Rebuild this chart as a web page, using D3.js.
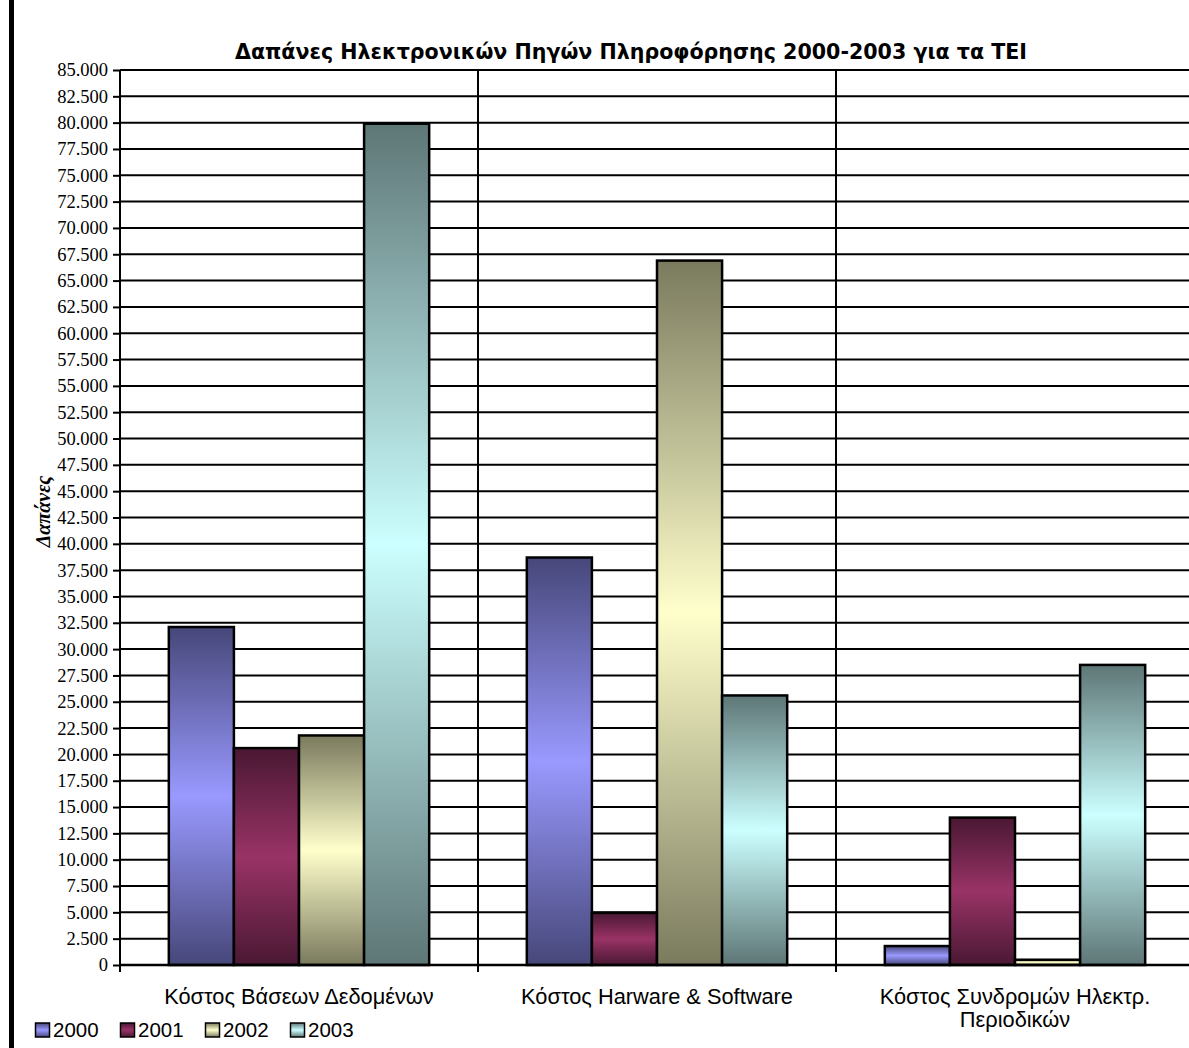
<!DOCTYPE html>
<html>
<head>
<meta charset="utf-8">
<script src="https://cdn.jsdelivr.net/npm/d3@7"></script>
<style>
  body { margin: 0; background: #fff; }
  svg { display: block; }
  .tick text { font-family: "Liberation Serif", "Times New Roman", serif; font-size: 18.5px; fill: #000; }
</style>
</head>
<body>
<svg id="chart"></svg>
<script>
// data
var categories = ["Κόστος Βάσεων Δεδομένων", "Κόστος Harware & Software", "Κόστος Συνδρομών Ηλεκτρ. Περιοδικών"];
var years = ["2000", "2001", "2002", "2003"];
var v2000 = [32100, 38700, 1800];
var v2001 = [20600, 4950, 14000];
var v2002 = [21800, 66900, 500];
var v2003 = [79900, 25600, 28500];
var yTicks = d3.range(0, 85001, 2500);

var series = [v2000, v2001, v2002, v2003];
var baseColors = ["#9999FF", "#993366", "#FFFFCC", "#CCFFFF"];
var darkColors = ["#47477A", "#4A1833", "#7A7A5E", "#5E7676"];

var W = 1189, H = 1048;
var svg = d3.select("#chart").attr("width", W).attr("height", H);

var margin = {left: 120, top: 70, right: -5, bottom: 83},
    plotRight = W - margin.right,
    plotBottom = H - margin.bottom;

var x0 = d3.scaleBand().domain(categories).range([margin.left, plotRight]);
var x1 = d3.scaleBand().domain(years).range([0, x0.bandwidth()]).paddingInner(0).paddingOuter(0.75);
var y = d3.scaleLinear().domain([0, 85000]).range([plotBottom, margin.top]);

var fmt = d3.formatLocale({decimal: ",", thousands: ".", grouping: [3], currency: ["", "€"]}).format(",d");

// gradients: dark - light - dark, per bar
var defs = svg.append("defs");
years.forEach(function(yr, i) {
    var g = defs.append("linearGradient")
        .attr("id", "grad" + i)
        .attr("x1", 0).attr("y1", 0).attr("x2", 0).attr("y2", 1);
    g.append("stop").attr("offset", "0%").attr("stop-color", darkColors[i]);
    g.append("stop").attr("offset", "50%").attr("stop-color", baseColors[i]);
    g.append("stop").attr("offset", "100%").attr("stop-color", darkColors[i]);
});

// thick left border
svg.append("rect").attr("x", 9).attr("y", 0).attr("width", 5).attr("height", H).attr("fill", "#000");

// title
svg.append("text")
    .attr("x", 631).attr("y", 59)
    .attr("text-anchor", "middle")
    .style("font-family", "'DejaVu Sans', Verdana, sans-serif")
    .style("font-weight", "bold")
    .style("font-size", "20.6px")
    .text("Δαπάνες Ηλεκτρονικών Πηγών Πληροφόρησης 2000-2003 για τα ΤΕΙ");

// horizontal gridlines
svg.append("g").selectAll("line")
    .data(yTicks.filter(function(d) { return d > 0; }))
    .enter().append("line")
    .attr("x1", margin.left).attr("x2", W)
    .attr("y1", function(d) { return y(d); })
    .attr("y2", function(d) { return y(d); })
    .attr("stroke", "#000").attr("stroke-width", 2);

// vertical category separators
svg.append("g").selectAll("line")
    .data(categories.slice(1))
    .enter().append("line")
    .attr("x1", function(d) { return x0(d); })
    .attr("x2", function(d) { return x0(d); })
    .attr("y1", margin.top).attr("y2", plotBottom + 7)
    .attr("stroke", "#000").attr("stroke-width", 2);

// bars
var groups = svg.append("g").selectAll("g")
    .data(categories)
    .enter().append("g")
    .attr("transform", function(d) { return "translate(" + x0(d) + ",0)"; });

groups.selectAll("rect")
    .data(function(c, ci) { return years.map(function(yr, i) { return {year: yr, i: i, value: series[i][ci]}; }); })
    .enter().append("rect")
    .attr("x", function(d) { return x1(d.year); })
    .attr("y", function(d) { return y(d.value); })
    .attr("width", x1.bandwidth())
    .attr("height", function(d) { return plotBottom - y(d.value); })
    .attr("fill", function(d) { return "url(#grad" + d.i + ")"; })
    .attr("stroke", "#000")
    .attr("stroke-width", 2.5);

// y axis
var yAxis = svg.append("g")
    .attr("transform", "translate(" + margin.left + ",0)")
    .call(d3.axisLeft(y).tickValues(yTicks).tickSize(7).tickPadding(5).tickFormat(function(d) { return d === 0 ? "0" : fmt(d); }));
yAxis.select(".domain").remove();
yAxis.selectAll(".tick line").attr("stroke", "#000").attr("stroke-width", 2);
yAxis.append("line")
    .attr("x1", 0).attr("x2", 0).attr("y1", margin.top).attr("y2", plotBottom + 7)
    .attr("stroke", "#000").attr("stroke-width", 2);

// x axis baseline
svg.append("line")
    .attr("x1", margin.left).attr("x2", W)
    .attr("y1", plotBottom).attr("y2", plotBottom)
    .attr("stroke", "#000").attr("stroke-width", 2.5);

// category labels (wrapped)
svg.append("g").selectAll("text")
    .data(categories)
    .enter().append("text")
    .attr("x", function(d) { return x0(d) + x0.bandwidth() / 2; })
    .attr("y", 1004)
    .attr("text-anchor", "middle")
    .style("font-family", "'Liberation Sans', Arial, sans-serif")
    .style("font-size", "21.8px")
    .text(function(d) { return d; })
    .call(wrap, 330);

function wrap(text, width) {
    text.each(function() {
        var t = d3.select(this),
            words = t.text().split(/\s+/),
            line = [],
            xx = t.attr("x"),
            tspan = t.text(null).append("tspan").attr("x", xx).attr("dy", 0);
        words.forEach(function(w) {
            line.push(w);
            tspan.text(line.join(" "));
            if (tspan.node().getComputedTextLength() > width && line.length > 1) {
                line.pop();
                tspan.text(line.join(" "));
                line = [w];
                tspan = t.append("tspan").attr("x", xx).attr("dy", 23).text(w);
            }
        });
    });
}

// y axis title
svg.append("text")
    .attr("transform", "translate(50," + ((margin.top + plotBottom) / 2 - 6) + ") rotate(-90)")
    .attr("text-anchor", "middle")
    .style("font-family", "'Liberation Serif', 'Times New Roman', serif")
    .style("font-weight", "bold")
    .style("font-style", "italic")
    .style("font-size", "20px")
    .text("Δαπάνες");

// legend
var legend = svg.append("g").attr("transform", "translate(35,1037)");
var item = legend.selectAll("g")
    .data(years)
    .enter().append("g")
    .attr("transform", function(d, i) { return "translate(" + (i * 85) + ",0)"; });
item.append("rect")
    .attr("x", 0.5).attr("y", -14).attr("width", 14).attr("height", 14)
    .attr("fill", function(d, i) { return "url(#grad" + i + ")"; })
    .attr("stroke", "#000").attr("stroke-width", 1.5);
item.append("text")
    .attr("x", 18).attr("y", 0)
    .style("font-family", "'Liberation Sans', Arial, sans-serif")
    .style("font-size", "20.5px")
    .text(function(d) { return d; });
</script>
</body>
</html>
